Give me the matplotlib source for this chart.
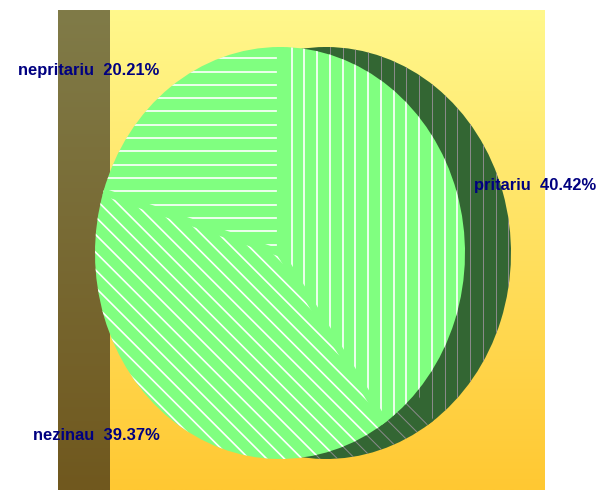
import numpy as np
import matplotlib
matplotlib.use("Agg")
import matplotlib.pyplot as plt
from matplotlib.collections import LineCollection
from matplotlib.patches import Ellipse

categories = ["pritariu", "nezinau", "nepritariu"]
percents = [40.42, 39.37, 20.21]
hatches = ["|", "\\", "-"]

W, H, DPI = 602, 490, 80
fig = plt.figure(figsize=(W / DPI, H / DPI), dpi=DPI)
fig.patch.set_facecolor("white")

# background gradient panel
bg = fig.add_axes([0, 0, 1, 1])
bg.axis("off")
g = np.linspace(0, 1, 256)[:, None, None]
top = np.array([255, 248, 140]) / 255
bot = np.array([255, 200, 50]) / 255
bg.imshow(top + (bot - top) * g, aspect="auto", extent=[58, 545, 490, 10], zorder=0)
stop = np.array([128, 123, 72]) / 255
sbot = np.array([112, 88, 30]) / 255
bg.imshow(stop + (sbot - stop) * g, aspect="auto", extent=[58, 110, 490, 10], zorder=1)
bg.set_xlim(0, W)
bg.set_ylim(H, 0)

# pie axes
ax = fig.add_axes([0, 0, 1, 1])
ax.set_facecolor("none")
cx, cy, rx, ry = 280, 253, 185, 206
dx = 46 / rx


def to_data(px, py):
    return ((px - cx) / rx, (cy - py) / ry)


def hatch_segments(kind):
    segs = []
    if kind == "|":
        for x in np.arange(291.7 % 12.75, W, 12.75):
            segs.append([to_data(x, 0), to_data(x, H)])
    elif kind == "-":
        for y in np.arange(58.3 % 13.3, H, 13.3):
            segs.append([to_data(0, y), to_data(W, y)])
    else:
        for c in np.arange(156.7 - 17.7 * 40, H, 17.7):
            segs.append([to_data(0, c), to_data(W, W + c)])
    return segs


def add_hatches(wedges, color, lw, fill, center_x):
    z = wedges[0].get_zorder()
    for w, h in zip(wedges, hatches):
        lc = LineCollection(hatch_segments(h), colors=color, linewidths=lw,
                            zorder=z + 0.01)
        ax.add_collection(lc)
        lc.set_clip_path(w)
    # small gap between hatch ends and the slice borders
    rim = Ellipse((center_x, 0), 2, 2, transform=ax.transData, facecolor="none",
                  edgecolor="none")
    ax.add_patch(rim)
    borders = []
    for w in wedges:
        t = np.deg2rad(w.theta1)
        borders.append([(center_x, 0), (center_x + np.cos(t) * 1.05, np.sin(t) * 1.05)])
    bc = LineCollection(borders, colors=fill, linewidths=6.5, zorder=z + 0.02,
                        capstyle="butt")
    ax.add_collection(bc)
    bc.set_clip_path(rim)


sw, _ = ax.pie(percents, startangle=90, counterclock=False, colors=["#336633"] * 3,
               center=(dx, 0), wedgeprops=dict(linewidth=0, zorder=1))
add_hatches(sw, "#8a8a8a", 0.9, "#336633", dx)

labels = [f"{c}  {p:.2f}%" for c, p in zip(categories, percents)]
mw, texts = ax.pie(percents, labels=labels, labeldistance=1.1, startangle=90,
                   counterclock=False, colors=["#80ff80"] * 3,
                   wedgeprops=dict(linewidth=0, zorder=3),
                   textprops=dict(color="#000080", fontweight="bold", fontsize=14.8,
                                  family=["Liberation Sans", "DejaVu Sans"], zorder=5))
add_hatches(mw, "white", 1.5, "#80ff80", 0)

ax.set_aspect("auto")
ax.set_xlim(-cx / rx, (W - cx) / rx)
ax.set_ylim(-(H - cy) / ry, cy / ry)
ax.axis("off")

fig.savefig("out.png", dpi=DPI)
